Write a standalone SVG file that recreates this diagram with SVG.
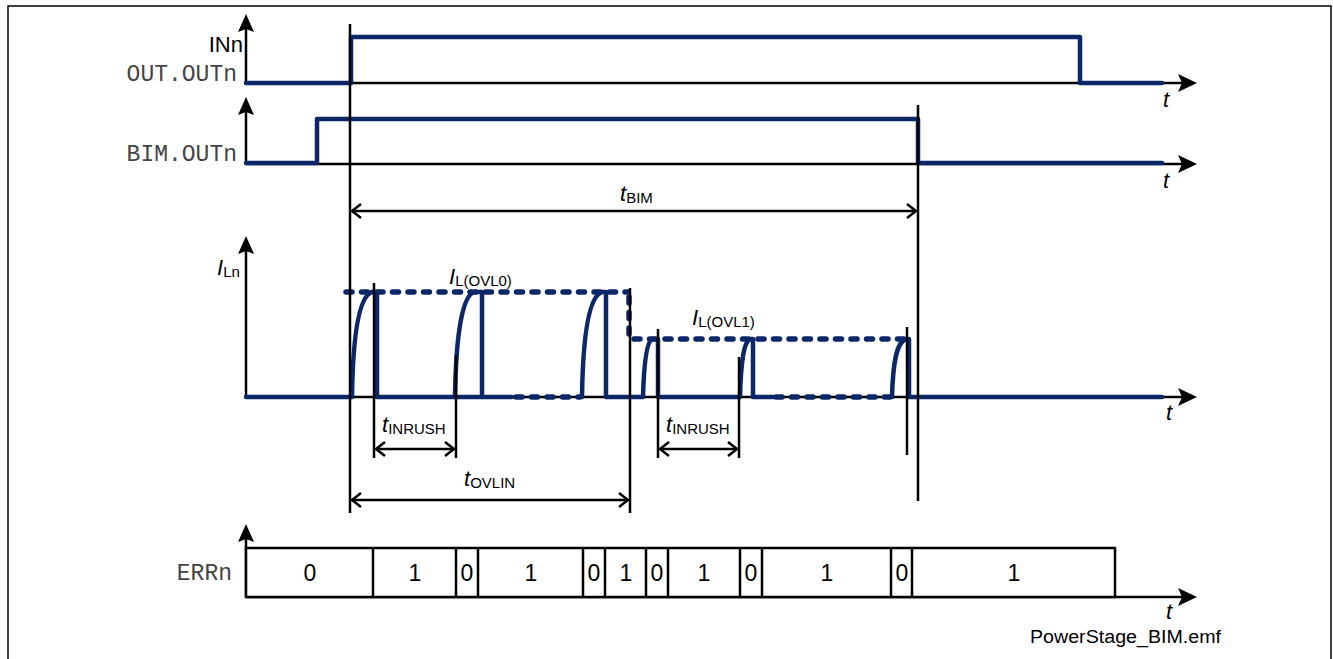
<svg xmlns="http://www.w3.org/2000/svg" width="1333" height="659" viewBox="0 0 1333 659">
<style>
.ax{stroke:#000;stroke-width:2.5;fill:none}
.vl{stroke:#000;stroke-width:2.5;fill:none}
.sig{stroke:#0b2768;stroke-width:4.5;fill:none;stroke-linejoin:round;stroke-linecap:round}
.dot{stroke:#0b2768;stroke-width:5.5;fill:none;stroke-linecap:round;stroke-dasharray:6 9.5}
.dim{stroke:#000;stroke-width:2.5;fill:none;marker-start:url(#oa);marker-end:url(#oa)}
.mono{font-family:"Liberation Mono","DejaVu Sans Mono",monospace;font-size:23px;fill:#444}
.sans{font-family:"Liberation Sans",Arial,sans-serif;fill:#000}
.it{font-style:italic}
.cell{font-family:"Liberation Sans",Arial,sans-serif;font-size:23px;text-anchor:middle;fill:#000}
.box{stroke:#000;stroke-width:2.5;fill:#fff}
</style>
<defs>
<marker id="oa" markerUnits="userSpaceOnUse" markerWidth="20" markerHeight="20" refX="0" refY="0" overflow="visible" orient="auto-start-reverse">
<path d="M-9,-7 L0,0 L-9,7" stroke="#000" stroke-width="2.5" fill="none"/>
</marker>
<path id="au" d="M0,0 L-8,18 L0,15 L8,18 Z" fill="#000"/>
<path id="ar" d="M0,0 L-19,-9 L-15,0 L-19,9 Z" fill="#000"/>
</defs>
<rect x="8" y="6" width="1323" height="660" fill="#fff" stroke="#000" stroke-width="1.5"/>

<g id="plot-out">
<line class="ax" x1="246" y1="22" x2="246" y2="83"/>
<use href="#au" x="246" y="14"/>
<line class="ax" x1="246" y1="83" x2="1182" y2="83"/>
<use href="#ar" x="1197" y="83"/>
<polyline class="sig" points="246,83 351,83 351,37 1080,37 1080,83 1162,83"/>
<text class="sans" x="243" y="52" font-size="22" text-anchor="end">INn</text>
<text class="mono" x="237" y="81" text-anchor="end">OUT.OUTn</text>
<text class="sans it" x="1163" y="107" font-size="22">t</text>
</g>

<g id="plot-bim">
<line class="ax" x1="246" y1="105" x2="246" y2="164"/>
<use href="#au" x="246" y="97"/>
<line class="ax" x1="246" y1="164" x2="1182" y2="164"/>
<use href="#ar" x="1197" y="164"/>
<polyline class="sig" points="246,163 317,163 317,119 918,119 918,163 1162,163"/>
<text class="mono" x="237" y="161" text-anchor="end">BIM.OUTn</text>
<text class="sans it" x="1163" y="188" font-size="22">t</text>
</g>

<g id="plot-il">
<line class="ax" x1="246" y1="245" x2="246" y2="397"/>
<use href="#au" x="246" y="236"/>
<line class="ax" x1="246" y1="397" x2="1182" y2="397"/>
<use href="#ar" x="1197" y="397"/>
<text class="sans" x="217" y="275"><tspan class="it" font-size="22">I</tspan><tspan font-size="15" dy="2">Ln</tspan></text>
<text class="sans it" x="1166" y="420" font-size="22">t</text>
<line class="dot" x1="346" y1="292" x2="628" y2="292"/>
<line class="dot" x1="629" y1="297" x2="629" y2="336"/>
<line class="dot" x1="634" y1="339" x2="910" y2="339"/>
<line class="dot" x1="516" y1="397" x2="580" y2="397"/>
<line class="dot" x1="776" y1="397" x2="890" y2="397"/>
<path class="sig" d="M246,397 L352,397 C353,330 360,296 372,292 L377,292 L377,397 L512,397"/>
<path class="sig" d="M455,397 C456,330 463,296 474,292 L482,292 L482,397"/>
<path class="sig" d="M582,397 C583,330 590,296 602,292 L606,292 L606,397 L643,397 C644,360 647,342 652,339 L658,339 L658,397 L740,397 C741,360 744,342 750,339 L753,339 L753,397 L774,397"/>
<path class="sig" d="M892,397 C893,360 897,342 906,339 L909,339 L909,397 L1162,397"/>
<text class="sans" x="449" y="284"><tspan class="it" font-size="22">I</tspan><tspan font-size="15" dy="2">L(OVL0)</tspan></text>
<text class="sans" x="692" y="325"><tspan class="it" font-size="22">I</tspan><tspan font-size="15" dy="2">L(OVL1)</tspan></text>
</g>

<g id="plot-err">
<line class="ax" x1="246" y1="532" x2="246" y2="597"/>
<use href="#au" x="246" y="524"/>
<line class="ax" x1="246" y1="597" x2="1182" y2="597"/>
<use href="#ar" x="1197" y="597"/>
<rect class="box" x="246" y="548" width="869" height="49"/>
<g class="vl">
<line x1="373" y1="548" x2="373" y2="597"/>
<line x1="456" y1="548" x2="456" y2="597"/>
<line x1="478" y1="548" x2="478" y2="597"/>
<line x1="583" y1="548" x2="583" y2="597"/>
<line x1="605" y1="548" x2="605" y2="597"/>
<line x1="646" y1="548" x2="646" y2="597"/>
<line x1="668" y1="548" x2="668" y2="597"/>
<line x1="740" y1="548" x2="740" y2="597"/>
<line x1="762" y1="548" x2="762" y2="597"/>
<line x1="891" y1="548" x2="891" y2="597"/>
<line x1="912" y1="548" x2="912" y2="597"/>
</g>
<text class="cell" x="310" y="581">0</text>
<text class="cell" x="415" y="581">1</text>
<text class="cell" x="467" y="581">0</text>
<text class="cell" x="531" y="581">1</text>
<text class="cell" x="594" y="581">0</text>
<text class="cell" x="626" y="581">1</text>
<text class="cell" x="657" y="581">0</text>
<text class="cell" x="704" y="581">1</text>
<text class="cell" x="751" y="581">0</text>
<text class="cell" x="827" y="581">1</text>
<text class="cell" x="902" y="581">0</text>
<text class="cell" x="1014" y="581">1</text>
<text class="mono" x="232" y="580" text-anchor="end">ERRn</text>
<text class="sans it" x="1166" y="619" font-size="22">t</text>
</g>

<g id="connectors">
<line class="vl" x1="350" y1="24" x2="350" y2="513"/>
<line class="vl" x1="918" y1="105" x2="918" y2="501"/>
<line class="vl" x1="630" y1="288" x2="630" y2="513"/>
<line class="vl" x1="374" y1="283" x2="374" y2="458"/>
<line class="vl" x1="456" y1="355" x2="456" y2="458"/>
<line class="vl" x1="658" y1="329" x2="658" y2="458"/>
<line class="vl" x1="739" y1="357" x2="739" y2="458"/>
<line class="vl" x1="907" y1="327" x2="907" y2="455"/>
<line class="dim" x1="352" y1="211" x2="916" y2="211"/>
<line class="dim" x1="376" y1="449" x2="454" y2="449"/>
<line class="dim" x1="660" y1="449" x2="737" y2="449"/>
<line class="dim" x1="352" y1="500" x2="628" y2="500"/>
</g>

<g id="dim-labels">
<text class="sans" x="620" y="201"><tspan class="it" font-size="22">t</tspan><tspan font-size="15" dy="2">BIM</tspan></text>
<text class="sans" x="382" y="432"><tspan class="it" font-size="22">t</tspan><tspan font-size="15" dy="2">INRUSH</tspan></text>
<text class="sans" x="666" y="432"><tspan class="it" font-size="22">t</tspan><tspan font-size="15" dy="2">INRUSH</tspan></text>
<text class="sans" x="464" y="486"><tspan class="it" font-size="22">t</tspan><tspan font-size="15" dy="2">OVLIN</tspan></text>
</g>

<text class="sans" x="1030" y="643" font-size="18" textLength="191" lengthAdjust="spacingAndGlyphs">PowerStage_BIM.emf</text>
</svg>
